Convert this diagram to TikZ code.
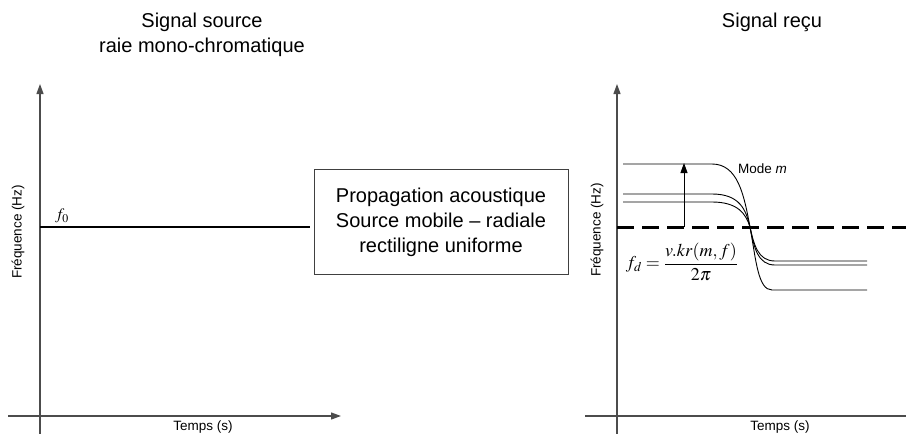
\documentclass[tikz,border=0pt]{standalone}
\usepackage{mathptmx}
\usepackage{fontspec}
\setmainfont{Liberation Sans}
\usetikzlibrary{arrows.meta}
\begin{document}
\begin{tikzpicture}[x=1pt,y=-1pt,
  axis/.style={draw=black!70, line width=1.2pt},
  axisarrow/.style={axis, -{Triangle[length=10pt,width=7pt]}},
  title/.style={font=\fontsize{20}{25}\selectfont, align=center, inner sep=0pt},
  small/.style={font=\fontsize{13.5}{15}\selectfont, inner sep=0pt},
  thickline/.style={line width=2.8pt, black},
  curve/.style={line width=0.9pt, black},
  boxstyle/.style={draw=black!75, line width=0.9pt, minimum width=254pt, minimum height=105pt, align=center, font=\fontsize{20}{25}\selectfont}
]
\useasboundingbox (0,0) rectangle (906,434);
% titles
\node[title] (t1) at (202,35) {Signal source\\raie mono-chromatique};
\node[title] (t2) at (772,22) {Signal reçu};
% left axes
\coordinate (lyb) at (40,434);
\coordinate (lyt) at (40,84);
\coordinate (lxl) at (8,416);
\coordinate (lxr) at (341,416);
\draw[axisarrow] (lyb) -- (lyt);
\draw[axisarrow] (lxl) -- (lxr);
\node[small, anchor=base] (lt) at (203,430) {Temps (s)};
\node[small, rotate=90] (lf) at (18,232) {Fréquence (Hz)};
% f0 line
\coordinate (f0a) at (40,227);
\coordinate (f0b) at (310,227);
\draw[thickline] (f0a) -- (f0b);
\node[font=\fontsize{16}{18}\selectfont, inner sep=0pt] (f0) at (62,216) {$f_0$};
% box
\node[boxstyle] (box) at (441,222) {Propagation acoustique\\Source mobile -- radiale\\rectiligne uniforme};
% right axes
\coordinate (ryb) at (617,434);
\coordinate (ryt) at (617,84);
\coordinate (rxl) at (585,416);
\coordinate (rxr) at (910,416);
\draw[axisarrow] (ryb) -- (ryt);
\draw[axis] (rxl) -- (rxr);
\node[small, anchor=base] (rt) at (780,430) {Temps (s)};
\node[small, rotate=90] (rf) at (597,230) {Fréquence (Hz)};
% dashed line
\coordinate (da) at (617,227);
\coordinate (db) at (906,227);
\draw[line width=3pt, dash pattern=on 17pt off 8pt] (da) -- (db);
% curves
\coordinate (c0) at (750,227);
\draw[curve] (623,164) -- (712,164) .. controls (738,164) and (744,195) .. (c0)
  .. controls (756,260) and (758,290) .. (772,290) -- (867,290);
\draw[curve] (623,194) -- (712,194) .. controls (740,194) and (746,210) .. (c0)
  .. controls (754,245) and (758,261) .. (775,261) -- (867,261);
\draw[curve] (623,202) -- (712,202) .. controls (738,202) and (746,214) .. (c0)
  .. controls (754,248) and (758,265) .. (775,265) -- (867,265);
% mode arrow
\coordinate (ma) at (684,227);
\coordinate (mb) at (684,163);
\draw[line width=0.9pt, -{Triangle[length=10pt,width=7pt]}] (ma) -- (mb);
\node[small, anchor=west] (mode) at (738,169) {Mode \textit{m}};
% formula
\node[font=\fontsize{18}{20}\selectfont, inner sep=0pt] (fd) at (682,262) {$\displaystyle f_d=\frac{v.kr(m,f)}{2\pi}$};
\end{tikzpicture}
\end{document}
